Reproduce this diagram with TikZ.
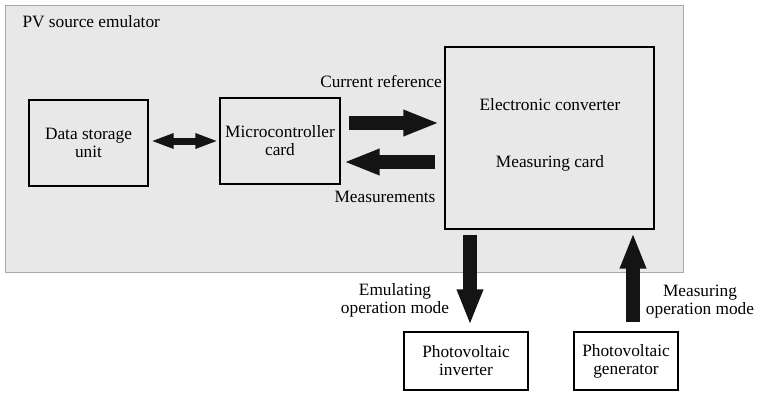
\documentclass[tikz,border=0pt]{standalone}
\usepackage{fontspec}
\setmainfont{Liberation Serif}
\usetikzlibrary{arrows.meta}
\definecolor{panelgray}{HTML}{E8E8E8}
\definecolor{rimgray}{HTML}{A8A8A8}
\begin{document}
\begin{tikzpicture}[x=1pt,y=-1pt,
    blk/.style={draw,line width=1.4pt,inner sep=0pt,align=center},
    fat/.style={black!92,line width=14pt,-{Triangle[length=36pt,width=24pt]}},
    dbl/.style={black!92,line width=7pt,
                {Triangle[length=23pt,width=14pt]}-{Triangle[length=23pt,width=14pt]}},
    every node/.style={font=\fontsize{17.3}{18}\selectfont}]
  \useasboundingbox (0,0) rectangle (764,394);
  %-------------------------------------------------- the emulator panel
  \draw[rimgray,fill=panelgray,line width=1pt] (5,5) rectangle (683,272);
  \node[anchor=west] (title) at (19,22) {PV source emulator};
  \node[blk,minimum width=119pt,minimum height=86pt] (dsu) at (88.5,143)
    {Data storage\\unit};
  \node[blk,minimum width=120pt,minimum height=86pt] (mc) at (280,141)
    {Microcontroller\\card};
  \node[blk,minimum width=209pt,minimum height=182pt] (conv) at (549.5,138) {};
  \node (ec) at (550,105) {Electronic converter};
  \node (mcard) at (550,163) {Measuring card};
  \draw[dbl,shorten <=2pt,shorten >=1pt] (dsu.east |- mc.west) -- (mc.west);
  % reference out, measurements back
  \coordinate (cr) at ([xshift=8pt,yshift=18pt]mc.east);
  \coordinate (ms) at ([yshift=-21pt]mc.east);
  \draw[fat,shorten >=5pt] (cr) -- (cr -| conv.west);
  \draw[fat,shorten <=9pt,shorten >=3pt] (ms -| conv.west) -- (ms);
  \node (crl) at (381,81) {Current reference};
  \node (msl) at (385,197) {Measurements};
  %-------------------------------------------------- the two modes
  \node[blk,fill=white,minimum width=124pt,minimum height=58pt] (inv)
    at (466,361) {Photovoltaic\\inverter};
  \node[blk,fill=white,minimum width=104pt,minimum height=58pt] (gen)
    at (626,361) {Photovoltaic\\generator};
  \coordinate (em) at ([xshift=4pt]inv.north);
  \coordinate (me) at ([xshift=7pt]gen.north);
  \draw[fat,shorten <=5pt,shorten >=6pt] (em |- conv.south) -- (em);
  \draw[fat,shorten <=9pt,shorten >=3pt] (me) -- (me |- conv.south);
  \node[align=center] (eml) at (395,300) {Emulating\\operation mode};
  \node[align=center] (mel) at (700,302) {Measuring\\operation mode};
\end{tikzpicture}
\end{document}
